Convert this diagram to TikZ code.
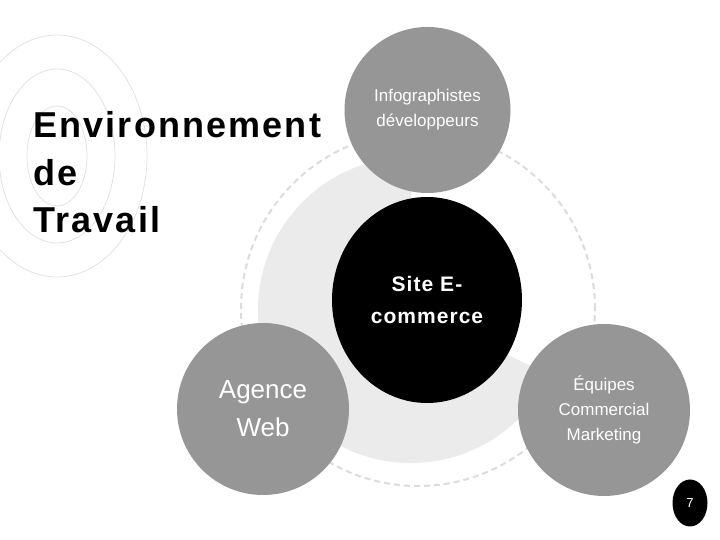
\documentclass[tikz,border=0pt]{standalone}
\usepackage{fontspec}
\setmainfont{Liberation Sans}
\newfontfamily\espace[LetterSpace=6]{Liberation Sans}
\newfontfamily\espacefin[LetterSpace=5]{Liberation Sans}
\usetikzlibrary{shapes.geometric}
\definecolor{GrisBulle}{HTML}{969696}
\definecolor{GrisFond}{HTML}{EBEBEB}
\definecolor{GrisTiret}{HTML}{DCDCDC}
\definecolor{GrisOnde}{HTML}{E0E0E0}

\begin{document}
\begin{tikzpicture}[x=1pt, y=1pt,
    bulle/.style={circle, fill=GrisBulle, text=white, inner sep=0pt, minimum size=172pt, align=center, font=\fontsize{17}{25}\selectfont},
    coeur/.style={ellipse, fill=black, text=white, inner sep=0pt, minimum width=190pt, minimum height=206pt, align=center, font=\fontsize{21}{32}\selectfont\espacefin\bfseries},
    onde/.style={line width=0.7pt, GrisOnde},
    tiret/.style={line width=2pt, GrisTiret, dash pattern=on 6pt off 4pt},
    titre/.style={font=\fontsize{36}{47.5}\selectfont\espace\bfseries, align=left, inner sep=0pt},
  ]
  \useasboundingbox (0,0) rectangle (720,540);
  \fill[white] (0,0) rectangle (720,540);
  % ---- ondes (haut gauche) ----
  \foreach \rx/\ry in {30/50, 58/87, 90/121}{\draw[onde] (57,384) ellipse[x radius=\rx, y radius=\ry];}
  % ---- titre ----
  \node[titre, anchor=base west] (env) at (33,307) {Environnement\\de\\Travail};
  % ---- cercle pointille et fond ----
  \draw[tiret] (418,231) circle[radius=177];
  \fill[GrisFond] (411,230) -- ++(90:153) arc[start angle=90, end angle=335, radius=153] -- cycle;
  % ---- bulles ----
  \node[bulle, minimum size=166pt] (info) at (427.5,430) {Infographistes\\développeurs};
  \node[coeur] (site) at (427,240) {Site E-\\commerce};
  \node[bulle, font=\fontsize{26}{38}\selectfont] (agence) at (263,131) {Agence\\Web};
  \node[bulle] (equipes) at (604,130) {Équipes\\Commercial\\Marketing};
  % ---- numero de page ----
  \node[ellipse, fill=black, text=white, inner sep=0pt, minimum width=35pt, minimum height=47pt, font=\fontsize{13}{15}\selectfont] (pnum) at (690,37) {7};
\end{tikzpicture}
\end{document}
